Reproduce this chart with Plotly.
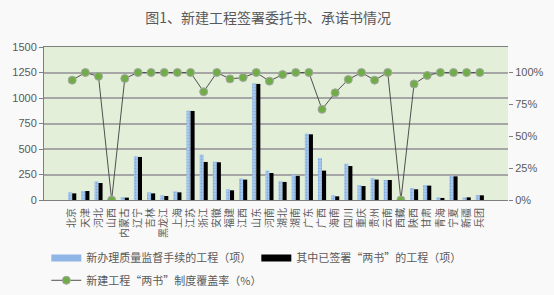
import plotly.graph_objects as go

provinces = ["北京", "天津", "河北", "山西", "内蒙古", "辽宁", "吉林", "黑龙江", "上海", "江苏",
             "浙江", "安徽", "福建", "江西", "山东", "河南", "湖北", "湖南", "广东", "广西",
             "海南", "四川", "重庆", "贵州", "云南", "西藏", "陕西", "甘肃", "青海", "宁夏",
             "新疆", "兵团"]
new_projects = [75, 88, 183, 0, 30, 428, 75, 46, 85, 876,
                445, 376, 105, 212, 1145, 288, 186, 248, 651, 412,
                46, 356, 147, 216, 196, 0, 118, 147, 26, 239,
                26, 49]
signed_projects = [65, 88, 167, 0, 23, 422, 65, 39, 75, 873,
                   373, 370, 95, 200, 1138, 265, 177, 235, 644, 288,
                   36, 333, 137, 200, 196, 0, 105, 141, 20, 232,
                   26, 46]
coverage = [0.94, 1.00, 0.97, 0.0, 0.953, 1.00, 1.00, 1.00, 1.00, 1.00,
            0.849, 1.00, 0.95, 0.96, 1.00, 0.932, 0.984, 1.00, 1.00, 0.711,
            0.841, 0.945, 1.00, 0.94, 1.00, 0.0, 0.91, 0.977, 1.00, 1.00,
            1.00, 1.00]
left_ticks = [0, 250, 500, 750, 1000, 1250, 1500]
right_ticks = [0, 0.25, 0.5, 0.75, 1.0]
right_labels = ["0%", "25%", "50%", "75%", "100%"]

FONT = "Noto Sans CJK SC"
GREY = "#595959"
BLUE = "#a9c8ec"
BLUE_LEG = "#8fb6e6"

fig = go.Figure()
fig.add_trace(go.Bar(
    x=provinces, y=new_projects, name="新办理质量监督手续的工程（项）",
    marker=dict(color=BLUE, line=dict(width=0),
                pattern=dict(shape=".", fgcolor="#4f8fd6", size=3, solidity=0.3)),
    showlegend=False,
))
fig.add_trace(go.Bar(
    x=provinces, y=signed_projects, name="其中已签署“两书”的工程（项）",
    marker=dict(color="#000000", line=dict(width=0)),
    showlegend=False,
))
# legend-only entries with wide rectangular swatches (like the original)
fig.add_trace(go.Scatter(
    x=[None], y=[None], mode="lines", name="新办理质量监督手续的工程（项）",
    line=dict(color=BLUE_LEG, width=7), legend="legend", hoverinfo="skip",
))
fig.add_trace(go.Scatter(
    x=[None], y=[None], mode="lines", name="其中已签署“两书”的工程（项）",
    line=dict(color="#000000", width=7), legend="legend", hoverinfo="skip",
))
fig.add_trace(go.Scatter(
    x=provinces, y=coverage, name="新建工程“两书”制度覆盖率（%）", yaxis="y2",
    mode="lines+markers",
    line=dict(color="#505050", width=1),
    marker=dict(color="#70ad47", size=8, line=dict(color="#a6a6a6", width=1)),
    legend="legend2",
))

fig.update_layout(
    width=554, height=295,
    margin=dict(l=44, r=46, t=47, b=95, autoexpand=False),
    paper_bgcolor="#f9f9f9",
    plot_bgcolor="#e3efd9",
    font=dict(family=FONT, size=11, color=GREY),
    title=dict(text="图1、新建工程签署委托书、承诺书情况", x=0.484, xanchor="center",
               y=0.94, yanchor="middle", font=dict(size=14, color=GREY, family=FONT)),
    barmode="group", bargap=0.38, bargroupgap=0,
    xaxis=dict(type="category", tickangle=-90, showgrid=False, ticks="outside",
               ticklen=3, tickcolor="rgba(0,0,0,0)",
               tickfont=dict(size=10, color=GREY), showline=True, linecolor="#7f7f7f",
               linewidth=1, mirror=True, automargin=False),
    yaxis=dict(range=[0, 1500], tickvals=left_ticks, ticks="outside", ticklen=4,
               tickcolor="#7f7f7f", showgrid=True, gridcolor="#a6a6a6", gridwidth=1.5,
               showline=True, linecolor="#7f7f7f", linewidth=1, zeroline=False,
               automargin=False,
               tickfont=dict(size=11, color=GREY, family="Liberation Sans")),
    yaxis2=dict(range=[0, 1.2], overlaying="y", side="right", tickvals=right_ticks,
                ticktext=right_labels, ticks="outside", ticklen=4, tickcolor="#7f7f7f",
                showgrid=False, showline=False, zeroline=False, automargin=False,
                tickfont=dict(size=11, color=GREY, family="Liberation Sans")),
    legend=dict(orientation="h", x=0.005, xanchor="left", y=-0.285, yanchor="top",
                bgcolor="rgba(0,0,0,0)", font=dict(size=11, color=GREY, family=FONT),
                itemwidth=30, tracegroupgap=0, traceorder="normal"),
    legend2=dict(orientation="h", x=0.005, xanchor="left", y=-0.43, yanchor="top",
                 bgcolor="rgba(0,0,0,0)", font=dict(size=11, color=GREY, family=FONT),
                 itemwidth=30),
)

fig.write_html("out.html")
